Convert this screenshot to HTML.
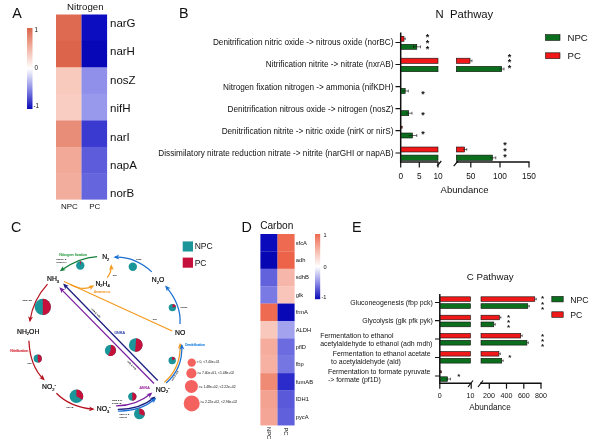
<!DOCTYPE html>
<html><head><meta charset="utf-8">
<style>
html,body{margin:0;padding:0;background:#fff;}
body{width:600px;height:442px;overflow:hidden;font-family:"Liberation Sans",sans-serif;}
svg{display:block;font-family:"Liberation Sans",sans-serif;will-change:transform;opacity:0.999;}
text{fill:#111;}
</style></head><body>
<svg width="600" height="442" viewBox="0 0 600 442">
<defs>
<linearGradient id="cb" x1="0" y1="0" x2="0" y2="1">
<stop offset="0" stop-color="#d9654a"/><stop offset="0.25" stop-color="#f2b3a3"/><stop offset="0.5" stop-color="#ffffff"/><stop offset="0.75" stop-color="#8c8ce6"/><stop offset="1" stop-color="#0a0ab8"/>
</linearGradient>
</defs>
<rect width="600" height="442" fill="#fff"/>
<!-- PANEL A -->
<g id="pA">
<text x="12.2" y="18" font-size="14.3">A</text>
<text x="85.3" y="9.7" font-size="9.7" text-anchor="middle">Nitrogen</text>
<rect x="27" y="28" width="5.5" height="81" fill="url(#cb)"/>
<text x="34.5" y="32" font-size="6.3">1</text>
<text x="34.5" y="70" font-size="6.3">0</text>
<text x="33.5" y="108" font-size="6.3">-1</text>
<g>
<rect x="56" y="14.5" width="25.6" height="26.9" fill="#de6a52"/><rect x="81.5" y="14.5" width="25.6" height="26.9" fill="#0c0cc0"/>
<rect x="56" y="40.9" width="25.6" height="26.9" fill="#dc644b"/><rect x="81.5" y="40.9" width="25.6" height="26.9" fill="#0707b8"/>
<rect x="56" y="67.3" width="25.6" height="26.9" fill="#f8c9bd"/><rect x="81.5" y="67.3" width="25.6" height="26.9" fill="#9090ea"/>
<rect x="56" y="93.7" width="25.6" height="27.2" fill="#f9cdc2"/><rect x="81.5" y="93.7" width="25.6" height="27.2" fill="#9898ec"/>
<rect x="56" y="120.5" width="25.6" height="26.9" fill="#e88e78"/><rect x="81.5" y="120.5" width="25.6" height="26.9" fill="#3a3ad0"/>
<rect x="56" y="146.9" width="25.6" height="26.9" fill="#f2a998"/><rect x="81.5" y="146.9" width="25.6" height="26.9" fill="#5d5ddb"/>
<rect x="56" y="173.3" width="25.6" height="26.3" fill="#f3ad9d"/><rect x="81.5" y="173.3" width="25.6" height="26.3" fill="#6565de"/>
</g>
<g font-size="11.5">
<text x="110" y="26.75">narG</text><text x="110" y="55">narH</text><text x="110" y="83.6">nosZ</text><text x="110" y="112.2">nifH</text><text x="110" y="140.5">narI</text><text x="110" y="168.6">napA</text><text x="110" y="197.2">norB</text>
</g>
<text x="69.4" y="209" font-size="8" text-anchor="middle">NPC</text>
<text x="94.7" y="209" font-size="8" text-anchor="middle">PC</text>
</g>
<!-- PANEL B -->
<g id="pB">
<text x="179" y="17.8" font-size="14.3">B</text>
<text x="435.5" y="17.5" font-size="11.3" xml:space="preserve">N  Pathway</text>
<g font-size="8.2" text-anchor="end" id="bl">
<text x="393.4" y="45.3">Denitrification nitric oxide -&gt; nitrous oxide (norBC)</text>
<text x="393.4" y="67.3">Nitrification nitrite -&gt; nitrate (nxrAB)</text>
<text x="393.4" y="89.5">Nitrogen fixation nitrogen -&gt; ammonia (nifKDH)</text>
<text x="393.4" y="111.5">Denitrification nitrous oxide -&gt; nitrogen (nosZ)</text>
<text x="393.4" y="133.5">Denitrification nitrite -&gt; nitric oxide (nirK or nirS)</text>
<text x="393.4" y="155.7">Dissimilatory nitrate reduction nitrate -&gt; nitrite (narGHI or napAB)</text>
</g>
<g stroke="#111" stroke-width="1.2" fill="none">
<path d="M400.7 32.5V162.7" stroke-width="1.5"/>
<path d="M400 162H438.5M456 162H529.6" stroke-width="1.5"/>
<path d="M395.5 42.5H400.7M395.5 64.5H400.7M395.5 86.7H400.7M395.5 108.7H400.7M395.5 130.7H400.7M395.5 153H400.7"/>
<path d="M400.7 162V167.5M419.3 162V167.5M438 162V167.5M470.8 162V167.5M500 162V167.5M529 162V167.5"/>
<path d="M437 166.2L441.3 161M453.7 166.2L458 161"/>
</g>
<g stroke="#111" stroke-width="0.6">
<rect x="401" y="36.3" width="3" height="5" fill="#f01818"/>
<rect x="401" y="44.3" width="15.8" height="5" fill="#0b6e1c"/>
<rect x="401" y="58.2" width="37" height="5.2" fill="#f01818"/><rect x="456.3" y="58.2" width="13.7" height="5.2" fill="#f01818"/>
<rect x="401" y="66.3" width="37" height="5.4" fill="#0b6e1c"/><rect x="456.3" y="66.3" width="45.4" height="5.4" fill="#0b6e1c"/>
<rect x="401" y="88.4" width="4.2" height="5.2" fill="#0b6e1c"/>
<rect x="401" y="110.7" width="7.7" height="5" fill="#0b6e1c"/>
<rect x="401" y="126.2" width="1.2" height="2" fill="#f01818"/>
<rect x="401" y="133" width="11.5" height="5" fill="#0b6e1c"/>
<rect x="401" y="147" width="37" height="5" fill="#f01818"/><rect x="456.3" y="147" width="8.4" height="5" fill="#f01818"/>
<rect x="401" y="155.1" width="37" height="5.4" fill="#0b6e1c"/><rect x="456.3" y="155.1" width="36.2" height="5.4" fill="#0b6e1c"/>
</g>
<g stroke="#111" stroke-width="0.6" fill="none">
<path d="M404 38.8H405.3M405.3 37.6V40"/>
<path d="M413.5 46.8H420.5M420.5 45.3V48.3M413.5 45.3V48.3"/>
<path d="M470 60.8H472M472 59.5V62.1"/>
<path d="M499.5 69H504M504 67.5V70.5"/>
<path d="M402.5 91H408.3M408.3 89.6V92.4"/>
<path d="M406 113.2H412M412 111.8V114.6"/>
<path d="M408.5 135.5H416.8M416.8 134V137"/>
<path d="M463 149.5H466.8M466.8 148.2V150.8"/>
<path d="M490 157.8H495.8M495.8 156.3V159.3"/>
</g>
<g font-size="9" text-anchor="middle" font-weight="bold">
<text x="427.5" y="40.2">*</text><text x="427.5" y="46">*</text><text x="427.5" y="51.8">*</text>
<text x="509.5" y="59.5">*</text><text x="509.5" y="65.3">*</text><text x="509.5" y="71.1">*</text>
<text x="423" y="97">*</text><text x="423" y="117.5">*</text><text x="423" y="137">*</text>
<text x="505" y="148.2">*</text><text x="505" y="154">*</text><text x="505" y="159.8">*</text>
</g>
<g font-size="8.3" text-anchor="middle">
<text x="400.7" y="178.6">0</text><text x="419.3" y="178.8">5</text><text x="438" y="178.8">10</text>
<text x="470.8" y="178.8">50</text><text x="500" y="178.8">100</text><text x="529" y="178.8">150</text>
</g>
<text x="464.6" y="192.5" font-size="9.5" text-anchor="middle">Abundance</text>
<rect x="545.5" y="34.6" width="14.5" height="5.8" fill="#0b6e1c" stroke="#111" stroke-width="0.6"/>
<rect x="545.5" y="52.8" width="14.5" height="5.8" fill="#f01818" stroke="#111" stroke-width="0.6"/>
<text x="567.5" y="40.8" font-size="9.6">NPC</text>
<text x="567.5" y="59.2" font-size="9.6">PC</text>
</g>
<!-- PANEL E -->
<g id="pE">
<text x="351.9" y="232" font-size="14.3">E</text>
<text x="466.8" y="280.4" font-size="9.7">C Pathway</text>
<g font-size="6.95" id="el">
<text x="432.8" y="305.2" text-anchor="end">Gluconeogenesis (fbp pck)</text>
<text x="432.8" y="323.3" text-anchor="end">Glycolysis (glk pfk pyk)</text>
<text x="320.2" y="338.1">Fermentation to ethanol</text>
<text x="320.2" y="345.8">acetylaldehyde to ethanol (adh mdh)</text>
<text x="332.7" y="356.3">Fermentation to ethanol acetate</text>
<text x="331.1" y="364">to acetylaldehyde (ald)</text>
<text x="327.9" y="374.1">Fermentation to formate pyruvate</text>
<text x="327.9" y="381.9">-&gt; formate (pf1D)</text>
</g>
<g stroke="#111" stroke-width="1.2" fill="none">
<path d="M439.8 294V384" stroke-width="1.5"/>
<path d="M439.1 383.3H471.5M480 383.3H541.6" stroke-width="1.5"/>
<path d="M435 302.5H439.8M435 320.7H439.8M435 339H439.8M435 357.5H439.8M435 376H439.8"/>
<path d="M439.8 383.3V388.8M471.2 383.3V388.8M489.3 383.3V388.8M506.5 383.3V388.8M523.8 383.3V388.8M541 383.3V388.8"/>
<path d="M468 387L473 380.5M478 387L483 380.5"/>
</g>
<g stroke="#111" stroke-width="0.6">
<rect x="440.2" y="296.8" width="30.3" height="4.6" fill="#f01818"/><rect x="481" y="296.8" width="53.8" height="4.6" fill="#f01818"/>
<rect x="440.2" y="303.7" width="30.3" height="4.8" fill="#0b6e1c"/><rect x="481" y="303.7" width="46.8" height="4.8" fill="#0b6e1c"/>
<rect x="440.2" y="315.2" width="30.3" height="4.6" fill="#f01818"/><rect x="481" y="315.2" width="18.4" height="4.6" fill="#f01818"/>
<rect x="440.2" y="322" width="30.3" height="4.8" fill="#0b6e1c"/><rect x="481" y="322" width="12.8" height="4.8" fill="#0b6e1c"/>
<rect x="440.2" y="333.4" width="30.3" height="4.6" fill="#f01818"/><rect x="481" y="333.4" width="39.7" height="4.6" fill="#f01818"/>
<rect x="440.2" y="340.3" width="30.3" height="4.8" fill="#0b6e1c"/><rect x="481" y="340.3" width="45.9" height="4.8" fill="#0b6e1c"/>
<rect x="440.2" y="351.5" width="30.3" height="4.6" fill="#f01818"/><rect x="481" y="351.5" width="17.9" height="4.6" fill="#f01818"/>
<rect x="440.2" y="358.3" width="30.3" height="4.8" fill="#0b6e1c"/><rect x="481" y="358.3" width="20.7" height="4.8" fill="#0b6e1c"/>
<rect x="440.2" y="370.8" width="1.2" height="2" fill="#a01010"/>
<rect x="440.2" y="376.8" width="7.4" height="4.5" fill="#0b6e1c"/>
</g>
<g stroke="#111" stroke-width="0.6" fill="none">
<path d="M534.8 299.1H536.3M536.3 297.9V300.3"/><path d="M527.8 306.1H529.3M529.3 304.9V307.3"/>
<path d="M499.4 317.5H500.9M500.9 316.3V318.7"/><path d="M493.8 324.4H495.3M495.3 323.2V325.6"/>
<path d="M520.7 335.7H522.2M522.2 334.5V336.9"/><path d="M526.9 342.7H528.4M528.4 341.5V343.9"/>
<path d="M498.9 353.8H500.4M500.4 352.6V355"/><path d="M501.7 360.7H503.2M503.2 359.5V361.9"/>
<path d="M446 379H450.5M450.5 377.7V380.3"/>
</g>
<g font-size="8" text-anchor="middle" font-weight="bold">
<text x="542.5" y="301.4">*</text><text x="542.5" y="306.5">*</text><text x="542.5" y="311.6">*</text>
<text x="508.5" y="319.8">*</text><text x="508.5" y="324.9">*</text><text x="508.5" y="330">*</text>
<text x="542.5" y="338.8">*</text><text x="542.5" y="343.9">*</text><text x="542.5" y="348.7">*</text>
<text x="509.9" y="360.3">*</text>
<text x="458.9" y="379.4">*</text>
</g>
<g font-size="7.1" text-anchor="middle">
<text x="439.8" y="397.5">0</text><text x="470.5" y="397.5">10</text><text x="489" y="397.5">200</text>
<text x="506.5" y="397.5">400</text><text x="523.8" y="397.5">600</text><text x="541" y="397.5">800</text>
</g>
<text x="490" y="409.5" font-size="8.2" text-anchor="middle">Abundance</text>
<rect x="551.8" y="296.4" width="11.4" height="5.5" fill="#0b6e1c" stroke="#111" stroke-width="0.6"/>
<rect x="551.8" y="311.8" width="11.4" height="5.5" fill="#f01818" stroke="#111" stroke-width="0.6"/>
<text x="570.3" y="302.5" font-size="8.7">NPC</text>
<text x="570.3" y="317.7" font-size="8.7">PC</text>
</g>
<!-- PANEL D -->
<g id="pD">
<text x="241.6" y="231.8" font-size="14.3">D</text>
<text x="260.2" y="228.6" font-size="10.1">Carbon</text>
<defs><linearGradient id="cb2" x1="0" y1="0" x2="0" y2="1"><stop offset="0" stop-color="#ee6a50"/><stop offset="0.25" stop-color="#f6b8aa"/><stop offset="0.5" stop-color="#ffffff"/><stop offset="0.75" stop-color="#8c8ce6"/><stop offset="1" stop-color="#0a0ab8"/></linearGradient></defs>
<rect x="260.4" y="234.00" width="17.2" height="17.54" fill="#0b0bbc"/><rect x="277.5" y="234.00" width="17.1" height="17.54" fill="#ee6a50"/><text x="295.7" y="244.70" font-size="5.8">sfcA</text>
<rect x="260.4" y="251.39" width="17.2" height="17.54" fill="#0606b2"/><rect x="277.5" y="251.39" width="17.1" height="17.54" fill="#ec6349"/><text x="295.7" y="262.09" font-size="5.8">adh</text>
<rect x="260.4" y="268.78" width="17.2" height="17.54" fill="#6262dc"/><rect x="277.5" y="268.78" width="17.1" height="17.54" fill="#f6b6a9"/><text x="295.7" y="279.48" font-size="5.8">sdhB</text>
<rect x="260.4" y="286.17" width="17.2" height="17.54" fill="#7a7ae4"/><rect x="277.5" y="286.17" width="17.1" height="17.54" fill="#f9c5ba"/><text x="295.7" y="296.87" font-size="5.8">glk</text>
<rect x="260.4" y="303.56" width="17.2" height="17.54" fill="#ee6a50"/><rect x="277.5" y="303.56" width="17.1" height="17.54" fill="#0808b6"/><text x="295.7" y="314.26" font-size="5.8">frmA</text>
<rect x="260.4" y="320.95" width="17.2" height="17.54" fill="#f9c8bc"/><rect x="277.5" y="320.95" width="17.1" height="17.54" fill="#a2a2ee"/><text x="295.7" y="331.65" font-size="5.8">ALDH</text>
<rect x="260.4" y="338.35" width="17.2" height="17.54" fill="#f5ac9c"/><rect x="277.5" y="338.35" width="17.1" height="17.54" fill="#6c6ce0"/><text x="295.7" y="349.04" font-size="5.8">pflD</text>
<rect x="260.4" y="355.74" width="17.2" height="17.54" fill="#f6b1a2"/><rect x="277.5" y="355.74" width="17.1" height="17.54" fill="#7676e3"/><text x="295.7" y="366.43" font-size="5.8">fbp</text>
<rect x="260.4" y="373.13" width="17.2" height="17.54" fill="#ef8b75"/><rect x="277.5" y="373.13" width="17.1" height="17.54" fill="#2b2bcc"/><text x="295.7" y="383.82" font-size="5.8">fumAB</text>
<rect x="260.4" y="390.52" width="17.2" height="17.54" fill="#f3a191"/><rect x="277.5" y="390.52" width="17.1" height="17.54" fill="#5959da"/><text x="295.7" y="401.21" font-size="5.8">IDH1</text>
<rect x="260.4" y="407.91" width="17.2" height="17.54" fill="#f4a595"/><rect x="277.5" y="407.91" width="17.1" height="17.54" fill="#6060dc"/><text x="295.7" y="418.60" font-size="5.8">pycA</text>
<rect x="315" y="234" width="5.2" height="65.2" fill="url(#cb2)"/>
<text x="323.5" y="237.4" font-size="5.6">1</text><text x="323.5" y="269" font-size="5.6">0</text><text x="321.5" y="299.3" font-size="5.6">-1</text>
<text transform="translate(266.6,427) rotate(90)" font-size="5.8">NPC</text><text transform="translate(284,427.5) rotate(90)" font-size="5.8">PC</text>
</g>
<!-- PANEL C -->
<g id="pC">
<defs><marker id="mg" viewBox="0 0 10 10" refX="7" refY="5" markerWidth="6.6" markerHeight="5.8" markerUnits="userSpaceOnUse" orient="auto"><path d="M0 0.8L10 5L0 9.2L2.8 5Z" fill="#15803a"/></marker><marker id="mo" viewBox="0 0 10 10" refX="7" refY="5" markerWidth="6.6" markerHeight="5.8" markerUnits="userSpaceOnUse" orient="auto"><path d="M0 0.8L10 5L0 9.2L2.8 5Z" fill="#f39a1e"/></marker><marker id="mb" viewBox="0 0 10 10" refX="7" refY="5" markerWidth="6.6" markerHeight="5.8" markerUnits="userSpaceOnUse" orient="auto"><path d="M0 0.8L10 5L0 9.2L2.8 5Z" fill="#1a6fd2"/></marker><marker id="mn" viewBox="0 0 10 10" refX="7" refY="5" markerWidth="6.6" markerHeight="5.8" markerUnits="userSpaceOnUse" orient="auto"><path d="M0 0.8L10 5L0 9.2L2.8 5Z" fill="#1c1c80"/></marker><marker id="mp" viewBox="0 0 10 10" refX="7" refY="5" markerWidth="6.6" markerHeight="5.8" markerUnits="userSpaceOnUse" orient="auto"><path d="M0 0.8L10 5L0 9.2L2.8 5Z" fill="#7b1fa0"/></marker><marker id="mr" viewBox="0 0 10 10" refX="7" refY="5" markerWidth="6.6" markerHeight="5.8" markerUnits="userSpaceOnUse" orient="auto"><path d="M0 0.8L10 5L0 9.2L2.8 5Z" fill="#b5121f"/></marker></defs>
<text x="11" y="232" font-size="14.3">C</text>
<g fill="none" stroke-width="1.25" stroke-linecap="butt">
<path d="M97.1 256.6Q79 257.5 61.2 270.3" stroke="#15803a" marker-end="url(#mg)"/>
<path d="M64 281.5L172.2 331" stroke="#f39a1e"/>
<path d="M70 284.2Q83 291.5 92.8 286.2" stroke="#f39a1e" marker-end="url(#mo)"/>
<path d="M107.2 277.7Q111.5 272 111.3 266" stroke="#f39a1e" marker-end="url(#mo)"/>
<path d="M151.8 271.9Q135 256.5 115.2 257.2" stroke="#1a6fd2" marker-end="url(#mb)"/>
<path d="M180 324Q181.5 305 166.2 286.8" stroke="#1a6fd2" marker-end="url(#mb)"/>
<path d="M157.7 380.5L64.3 284.8" stroke="#1c1c80" marker-end="url(#mn)"/>
<path d="M154 383.5L60.6 288.6" stroke="#7b1fa0" marker-end="url(#mp)"/>
<path d="M47.5 284.1Q33 300 30 320.5" stroke="#b5121f" marker-end="url(#mr)"/>
<path d="M28.9 340.7Q30 366 43.6 379.2" stroke="#b5121f" marker-end="url(#mr)"/>
<path d="M56.4 393.2Q70 407 93 409.2" stroke="#b5121f" marker-end="url(#mr)"/>
<path d="M116.1 405.9Q136 406 151 393.5" stroke="#7b1fa0" marker-end="url(#mp)"/>
<path d="M117.8 409.3Q140 409.5 154.2 397.5" stroke="#1c1c80" marker-end="url(#mn)"/>
<path d="M117.8 411Q141 411.5 155 398.8" stroke="#1a6fd2" marker-end="url(#mb)"/>
<path d="M164.5 382.2Q181 368 180.1 344.5" stroke="#f39a1e" marker-end="url(#mo)"/>
<path d="M166.2 382.9Q182.8 369 181.8 345.5" stroke="#1a6fd2" marker-end="url(#mb)"/>
</g>
<circle cx="80.3" cy="265.5" r="4.2" fill="#1a959a"/><path d="M80.3 265.5L79.72 261.34A4.2 4.2 0 0 1 81.17 261.39Z" fill="#c4103a"/>
<circle cx="42.8" cy="306.9" r="8.1" fill="#1a959a"/><path d="M42.8 306.9L42.80 298.80A8.1 8.1 0 0 1 42.80 315.00Z" fill="#c4103a"/>
<circle cx="132.8" cy="266.8" r="4.2" fill="#1a959a"/>
<circle cx="172.4" cy="307.6" r="3.7" fill="#1a959a"/><path d="M172.4 307.6L172.72 303.91A3.7 3.7 0 0 1 175.97 306.64Z" fill="#c4103a"/>
<circle cx="135.7" cy="345" r="6.8" fill="#1a959a"/><path d="M135.7 345L136.17 338.22A6.8 6.8 0 1 1 134.99 351.76Z" fill="#c4103a"/>
<circle cx="110.5" cy="350.4" r="5.6" fill="#1a959a"/><path d="M110.5 350.4L110.99 344.82A5.6 5.6 0 1 1 108.13 355.48Z" fill="#c4103a"/>
<circle cx="172.2" cy="360.5" r="3.7" fill="#1a959a"/><path d="M172.2 360.5L172.20 356.80A3.7 3.7 0 0 1 175.40 358.65Z" fill="#c4103a"/>
<circle cx="132.3" cy="396.6" r="4.2" fill="#1a959a"/><path d="M132.3 396.6L132.30 392.40A4.2 4.2 0 0 1 132.30 400.80Z" fill="#c4103a"/>
<circle cx="139.4" cy="413.9" r="5.4" fill="#1a959a"/><path d="M139.4 413.9L139.40 408.50A5.4 5.4 0 0 1 144.47 415.75Z" fill="#c4103a"/>
<circle cx="37.7" cy="358.6" r="4.1" fill="#1a959a"/><path d="M37.7 358.6L37.70 354.50A4.1 4.1 0 0 1 38.41 362.64Z" fill="#c4103a"/>
<circle cx="76.4" cy="396.3" r="6.8" fill="#1a959a"/><path d="M76.4 396.3L76.40 389.50A6.8 6.8 0 0 1 82.29 399.70Z" fill="#c4103a"/>
<text x="102.2" y="259" font-size="6.8" style="fill:#000;stroke:#000;stroke-width:0.18"><tspan dy="0.00">N</tspan><tspan dy="1.80" font-size="4.08">2</tspan></text>
<text x="47" y="280.7" font-size="6.8" style="fill:#000;stroke:#000;stroke-width:0.18"><tspan dy="0.00">NH</tspan><tspan dy="1.80" font-size="4.08">3</tspan></text>
<text x="95.4" y="285.5" font-size="6.8" style="fill:#000;stroke:#000;stroke-width:0.18"><tspan dy="0.00">N</tspan><tspan dy="1.80" font-size="4.08">2</tspan><tspan dy="-1.80">H</tspan><tspan dy="1.80" font-size="4.08">4</tspan></text>
<text x="151.8" y="282.1" font-size="6.8" style="fill:#000;stroke:#000;stroke-width:0.18"><tspan dy="0.00">N</tspan><tspan dy="1.80" font-size="4.08">2</tspan><tspan dy="-1.80">O</tspan></text>
<text x="175" y="334.8" font-size="6.8" style="fill:#000;stroke:#000;stroke-width:0.18"><tspan dy="0.00">NO</tspan></text>
<text x="17" y="333.6" font-size="6.8" style="fill:#000;stroke:#000;stroke-width:0.18"><tspan dy="0.00">NH</tspan><tspan dy="1.80" font-size="4.08">2</tspan><tspan dy="-1.80">OH</tspan></text>
<text x="42.1" y="389" font-size="6.8" style="fill:#000;stroke:#000;stroke-width:0.18"><tspan dy="0.00">NO</tspan><tspan dy="1.80" font-size="4.08">2</tspan><tspan dy="-4.80" font-size="4.08">-</tspan></text>
<text x="96.8" y="411" font-size="6.8" style="fill:#000;stroke:#000;stroke-width:0.18"><tspan dy="0.00">NO</tspan><tspan dy="1.80" font-size="4.08">3</tspan><tspan dy="-4.80" font-size="4.08">-</tspan></text>
<text x="155.7" y="391.5" font-size="6.8" style="fill:#000;stroke:#000;stroke-width:0.18"><tspan dy="0.00">NO</tspan><tspan dy="1.80" font-size="4.08">2</tspan><tspan dy="-4.80" font-size="4.08">-</tspan></text>
<text x="59.2" y="256.3" font-size="3.85" style="fill:#2f9e44;stroke:#2f9e44;stroke-width:0.15">Nitrogen fixation</text>
<text x="93.7" y="292.7" font-size="3.7" style="fill:#f5a040;stroke:#f5a040;stroke-width:0.15">Anammox</text>
<text x="114.4" y="334.4" font-size="3.7" style="fill:#3548b0;stroke:#3548b0;stroke-width:0.15">DNRA</text>
<text x="184.9" y="346.3" font-size="3.3" style="fill:#2080e0;stroke:#2080e0;stroke-width:0.15">Denitrification</text>
<text x="139.4" y="388.6" font-size="3.7" style="fill:#a030a0;stroke:#a030a0;stroke-width:0.15">ANRA</text>
<text x="10.2" y="351.9" font-size="3.7" style="fill:#d02030;stroke:#d02030;stroke-width:0.15">Nitrification</text>
<g font-size="2.3" font-weight="bold" style="fill:#111">
<text x="56.3" y="260.3">nifDKH &amp;</text><text x="56.3" y="263.4">vnfDKGH</text>
<text x="112.8" y="275.6">hzo</text><text x="136" y="259.6">nosZ</text><text x="180.5" y="308.4">norBC</text>
<text x="152.8" y="319.6">hao</text><text x="22.5" y="301">amoABC</text><text x="27.5" y="364">hao</text><text x="66.5" y="408">nxrAB</text>
<text x="111.9" y="400.8">narB &amp; nr</text><text x="111.9" y="404.1">&amp; nasAB</text>
<text x="119.5" y="414.8">narGHI &amp;</text><text x="119.5" y="418.1">napAB</text>
<text transform="translate(127,361.5) rotate(45.5)">nirB &amp; nirD</text>
<text transform="translate(91.1,309.2) rotate(45.5)">nrfA &amp; nrfH</text>
<text transform="translate(172.5,381.5) rotate(-58)">nirK &amp; nirS</text>
</g>
<rect x="182.7" y="241.4" width="10.3" height="10.1" fill="#1a959a"/><rect x="182.7" y="257.6" width="10.3" height="10.1" fill="#c4103a"/>
<text x="194.7" y="249.4" font-size="8.5">NPC</text><text x="194.7" y="266.3" font-size="8.5">PC</text>
<circle cx="191.7" cy="362.6" r="4.2" fill="#f3625f"/><circle cx="191.4" cy="373.3" r="5.1" fill="#f3625f"/><circle cx="191.4" cy="386.4" r="6.5" fill="#f3625f"/><circle cx="191.7" cy="403.4" r="8" fill="#f3625f"/>
<g font-size="3.4" style="fill:#666">
<text x="196.5" y="363.4">&gt; 0, &lt;7.40e+01</text><text x="197" y="374.1">&gt;= 7.40e+01, &lt;1.48e+02</text><text x="198.5" y="387.5">&gt;= 1.48e+02, &lt;2.22e+02</text><text x="200" y="403.2">&gt;= 2.22e+02, &lt;2.96e+02</text>
</g>
</g>
<!-- END C -->
</svg>
</body></html>
